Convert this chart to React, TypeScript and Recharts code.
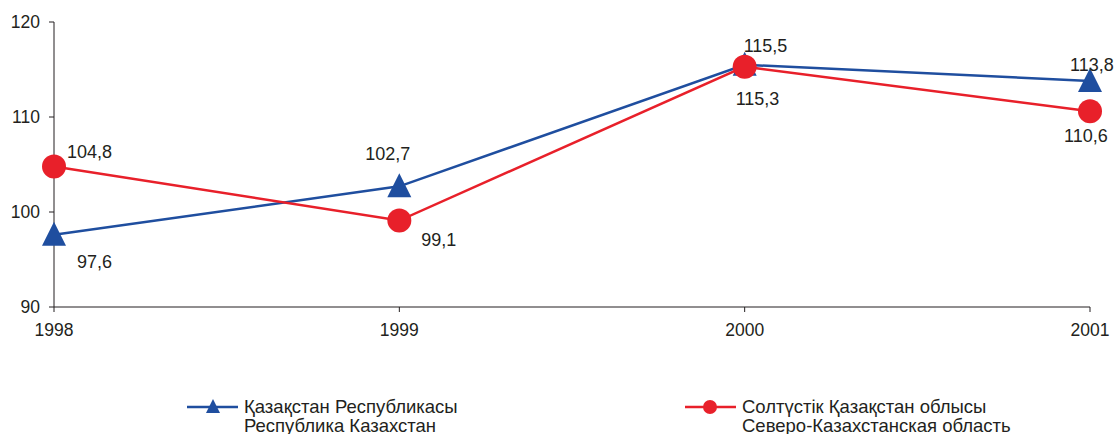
import { LineChart, Line, XAxis, YAxis, Legend, LabelList } from 'recharts';

const years = ['1998', '1999', '2000', '2001'];
const kazakhstan = [97.6, 102.7, 115.5, 113.8];
const northKz = [104.8, 99.1, 115.3, 110.6];
const yTicks = [90, 100, 110, 120];

const seriesNames = {
  kz: ['Қазақстан Республикасы', 'Республика Казахстан'],
  nkz: ['Солтүстік Қазақстан облысы', 'Северо-Казахстанская область'],
};

// label placement per point, [dx, dy] from the marker, text anchored at start
const kzLabelPos = [[23, 27], [-34, -32], [-1, -19], [-20, -16]];
const nkzLabelPos = [[13, -14], [22, 19], [-9, 32], [-26, 25]];

const BLUE = '#1f4e9f';
const RED = '#e8202a';
const INK = '#231f20';
const FONT = '"Liberation Sans", Arial, sans-serif';

const data = years.map((year, i) => ({ year, kz: kazakhstan[i], nkz: northKz[i] }));

const fmt = (v: number) => v.toFixed(1).replace('.', ',');

function Triangle({ cx, cy, size = 12 }: { cx: number; cy: number; size?: number }) {
  return (
    <polygon
      points={`${cx},${cy - size - 1} ${cx - size},${cy + size - 1} ${cx + size},${cy + size - 1}`}
      fill={BLUE}
    />
  );
}

function makeLabel(pos: number[][]) {
  return (props: any) => {
    const { x, y, value, index } = props;
    const [dx, dy] = pos[index] ?? [0, 0];
    return (
      <text
        x={x + dx}
        y={y + dy}
        fill={INK}
        fontSize={18}
        fontFamily={FONT}
        dominantBaseline="central"
        textAnchor="start"
      >
        {fmt(value)}
      </text>
    );
  };
}

function ChartLegend() {
  const textStyle = { position: 'absolute' as const, fontSize: 18.5, lineHeight: '19px', color: INK, fontFamily: FONT, whiteSpace: 'nowrap' as const };
  return (
    <div style={{ position: 'relative', width: 1114, height: 45 }}>
      <svg width={1114} height={45} style={{ position: 'absolute', left: 0, top: 0 }}>
        <line x1={187} x2={238} y1={15} y2={15} stroke={BLUE} strokeWidth={2.5} />
        <Triangle cx={213} cy={15} size={7} />
        <line x1={685} x2={736} y1={15} y2={15} stroke={RED} strokeWidth={2.5} />
        <circle cx={710} cy={15} r={7} fill={RED} />
      </svg>
      <div style={{ ...textStyle, left: 244, top: 5 }}>
        {seriesNames.kz[0]}<br />{seriesNames.kz[1]}
      </div>
      <div style={{ ...textStyle, left: 742, top: 5 }}>
        {seriesNames.nkz[0]}<br />{seriesNames.nkz[1]}
      </div>
    </div>
  );
}

export default function App() {
  const tick = { fill: INK, fontSize: 17.5, fontFamily: FONT };
  return (
    <div style={{ position: 'absolute', left: 0, top: 0, width: 1114, height: 434, background: '#fff' }}>
      <LineChart width={1114} height={434} data={data} margin={{ top: 22, right: 24, left: 8, bottom: 97 }}>
        <XAxis
          dataKey="year"
          scale="point"
          padding={{ left: 0, right: 0 }}
          stroke={INK}
          tickSize={5}
          tickMargin={12}
          tick={tick}
          height={30}
        />
        <YAxis
          type="number"
          domain={[90, 120]}
          ticks={yTicks}
          stroke={INK}
          tickSize={5}
          tickMargin={9}
          tick={tick}
          width={46}
        />
        <Legend
          layout="horizontal"
          verticalAlign="middle"
          wrapperStyle={{ top: 392, left: 0, width: 1114 }}
          content={() => <ChartLegend />}
        />
        <Line
          dataKey="kz"
          stroke={BLUE}
          strokeWidth={2.5}
          isAnimationActive={false}
          dot={(p: any) => <Triangle key={`kz-${p.index}`} cx={p.cx} cy={p.cy} />}
        >
          <LabelList dataKey="kz" content={makeLabel(kzLabelPos)} />
        </Line>
        <Line
          dataKey="nkz"
          stroke={RED}
          strokeWidth={2.5}
          isAnimationActive={false}
          dot={(p: any) => <circle key={`nkz-${p.index}`} cx={p.cx} cy={p.cy} r={12} fill={RED} />}
        >
          <LabelList dataKey="nkz" content={makeLabel(nkzLabelPos)} />
        </Line>
      </LineChart>
    </div>
  );
}
